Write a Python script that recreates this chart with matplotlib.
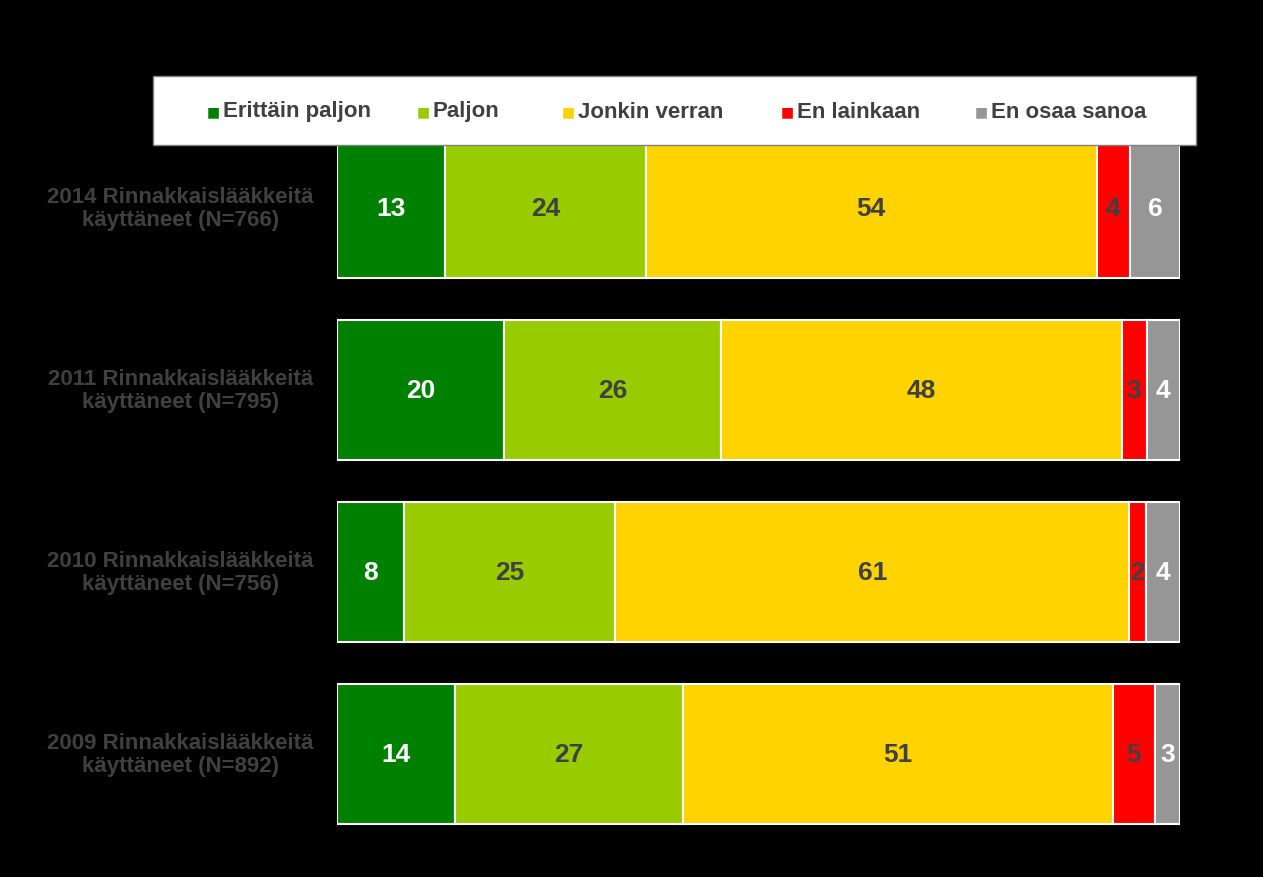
import matplotlib
matplotlib.use('Agg')
import matplotlib.pyplot as plt
import numpy as np

plt.rcParams['font.family'] = 'Liberation Sans'

rows = ['2014 Rinnakkaislääkkeitä\nkäyttäneet (N=766)',
        '2011 Rinnakkaislääkkeitä\nkäyttäneet (N=795)',
        '2010 Rinnakkaislääkkeitä\nkäyttäneet (N=756)',
        '2009 Rinnakkaislääkkeitä\nkäyttäneet (N=892)']
series = ['Erittäin paljon', 'Paljon', 'Jonkin verran', 'En lainkaan', 'En osaa sanoa']
erittain = [13, 20, 8, 14]
paljon = [24, 26, 25, 27]
jonkin = [54, 48, 61, 51]
ei = [4, 3, 2, 5]
eos = [6, 4, 4, 3]
colors = ['#008000', '#99CC00', '#FFD300', '#FF0000', '#969696']
text_colors = ['white', '#404040', '#404040', '#404040', 'white']

data = np.array([erittain, paljon, jonkin, ei, eos], dtype=float)
scaled = data / data.sum(axis=0) * 100

fig = plt.figure(figsize=(12.63, 8.78), dpi=100, facecolor='black')
ax = fig.add_axes([0.2668, 0.0364, 0.6675, 0.829], facecolor='black')
y = np.arange(len(rows))
left = np.zeros(len(rows))
for i, name in enumerate(series):
    ax.barh(y, scaled[i], left=left, height=0.77, color=colors[i],
            edgecolor='white', linewidth=1.5)
    for j in range(len(rows)):
        ax.text(left[j] + scaled[i][j] / 2, y[j], f'{int(data[i][j])}',
                ha='center', va='center', fontsize=19, fontweight='bold',
                color=text_colors[i])
    left += scaled[i]

ax.set_xlim(0, 100)
ax.set_ylim(3.5, -0.5)
ax.set_yticks([])
ax.set_xticks([])
for s in ax.spines.values():
    s.set_visible(False)
for j, lab in enumerate(rows):
    ax.text(-0.186, y[j], lab, transform=ax.get_yaxis_transform(),
            ha='center', va='center', fontsize=16, fontweight='bold',
            color='#404040', linespacing=1.1)

# legend box
lx0, ly0 = 153 / 1263, 1 - 146 / 878
fig.patches.append(plt.Rectangle((lx0, ly0), 1043 / 1263, 69 / 878,
                                 transform=fig.transFigure, facecolor='white',
                                 edgecolor='#808080', zorder=0))
xs = [207, 417, 562, 781, 975]
for xp, name, c in zip(xs, series, colors):
    fig.text(xp / 1263, 1 - 112 / 878, '■', color=c, fontsize=10, va='center',
             family='DejaVu Sans')
    fig.text((xp + 16) / 1263, 1 - 112 / 878, name, color='#404040',
             fontsize=16, fontweight='bold', va='center')

fig.savefig('out.png', dpi=100, facecolor='black')
